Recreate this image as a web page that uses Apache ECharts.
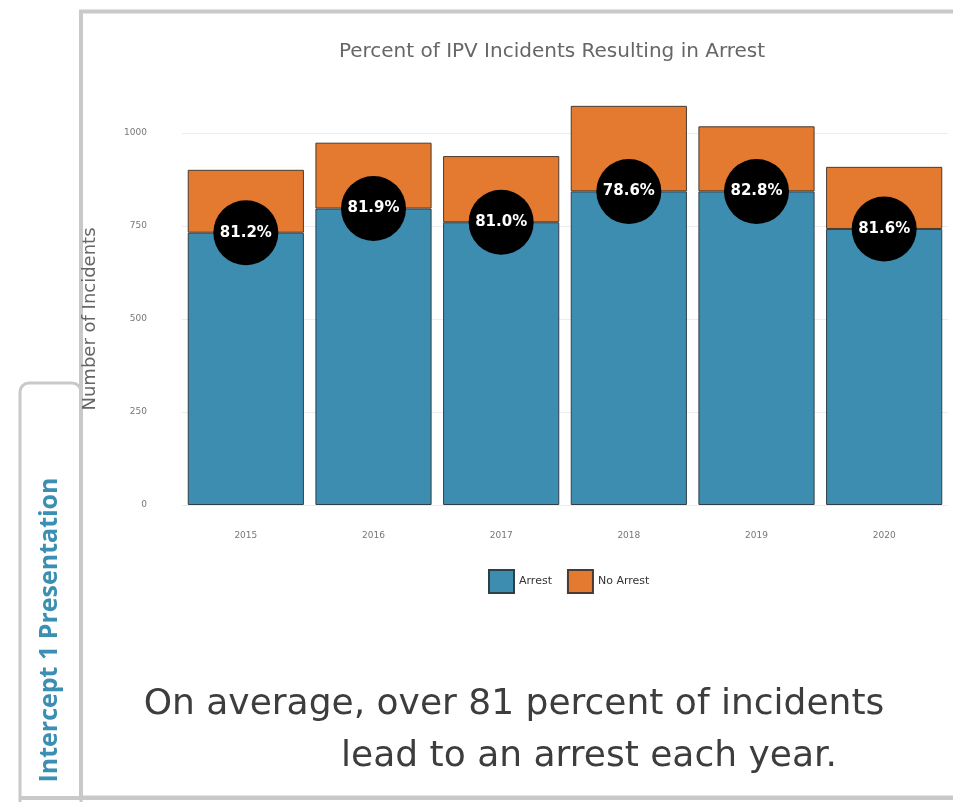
<!DOCTYPE html>
<html>
<head>
<meta charset="utf-8">
<script src="https://cdn.jsdelivr.net/npm/echarts@6/dist/echarts.min.js"></script>
<style>
html,body{margin:0;padding:0;background:#fff;}
#chart{width:953px;height:802px;}
</style>
</head>
<body>
<div id="chart"></div>
<script>
const years = ['2015', '2016', '2017', '2018', '2019', '2020'];
const arrest = [732, 797, 760, 843, 843, 742];
const noArrest = [169, 177, 178, 230, 175, 167];
const percentLabels = ['81.2%', '81.9%', '81.0%', '78.6%', '82.8%', '81.6%'];
const yTicks = [0, 250, 500, 750, 1000];

const chart = echarts.init(document.getElementById('chart'));
const FONT = '"DejaVu Sans", Verdana, sans-serif';
chart.setOption({
  animation: false,
  backgroundColor: '#ffffff',
  grid: { left: 182, right: 5, top: 133, bottom: 297 },
  legend: {
    data: ['Arrest', 'No Arrest'],
    left: 483, top: 564,
    itemWidth: 25, itemHeight: 23, itemGap: 15,
    textStyle: { fontSize: 11, color: '#333', fontFamily: FONT },
    icon: 'rect'
  },
  xAxis: {
    type: 'category',
    data: years,
    axisLine: { show: false },
    axisTick: { show: false },
    axisLabel: { fontSize: 9, color: '#777', margin: 26, fontFamily: FONT }
  },
  yAxis: {
    type: 'value',
    min: 0, max: 1000, interval: 250,
    name: 'Number of Incidents',
    nameLocation: 'middle',
    nameRotate: 90,
    nameGap: 83,
    nameTextStyle: { fontSize: 18, color: '#666', fontFamily: FONT },
    axisLabel: { fontSize: 9, color: '#777', margin: 35, fontFamily: FONT,
      formatter: function (v) { return yTicks.indexOf(v) >= 0 ? String(v) : ''; } },
    splitLine: { show: true, lineStyle: { color: '#ececec', width: 1 } },
    axisLine: { show: false },
    axisTick: { show: false }
  },
  series: [
    {
      name: 'Arrest', type: 'bar', stack: 'total', data: arrest, clip: false,
      barCategoryGap: '9%',
      itemStyle: { color: '#3c8db0', borderColor: '#2f3f48', borderWidth: 1 }
    },
    {
      name: 'No Arrest', type: 'bar', stack: 'total', data: noArrest, clip: false,
      itemStyle: { color: '#e37a2f', borderColor: '#4a3a30', borderWidth: 1 }
    },
    {
      name: 'pct', type: 'scatter', z: 5,
      data: years.map((y, i) => [y, arrest[i]]),
      symbol: 'circle', symbolSize: 65,
      itemStyle: { color: '#000', opacity: 1 },
      label: {
        show: true, position: 'inside',
        formatter: p => percentLabels[p.dataIndex],
        color: '#fff', fontSize: 15, fontWeight: 'bold', fontFamily: FONT
      }
    }
  ],
  graphic: [
    { type: 'rect', z: -1, shape: { x: 20, y: 383, width: 61, height: 440, r: 9 },
      style: { fill: '#fff', stroke: '#c9c9c9', lineWidth: 3 } },
    { type: 'rect', z: 0, shape: { x: 81, y: 11.5, width: 900, height: 786 },
      style: { fill: 'none', stroke: '#c9c9c9', lineWidth: 4 } },
    { type: 'line', z: 0, shape: { x1: 20, y1: 798, x2: 953, y2: 798 },
      style: { stroke: '#c9c9c9', lineWidth: 4 } },
    { type: 'text', z: 10, x: 50, y: 630, rotation: Math.PI / 2,
      style: { text: 'Intercept 1 Presentation', fill: '#3a8fb2',
        font: 'bold 25px "Open Sans", sans-serif', textAlign: 'center', textVerticalAlign: 'middle' } },
    { type: 'text', z: 10, x: 552, y: 52,
      style: { text: 'Percent of IPV Incidents Resulting in Arrest', fill: '#666',
        font: '20px "DejaVu Sans", Verdana, sans-serif', textAlign: 'center', textVerticalAlign: 'middle' } },
    { type: 'text', z: 10, x: 514, y: 705,
      style: { text: 'On average, over 81 percent of incidents', fill: '#3d3d3d',
        font: '36px "DejaVu Sans", Verdana, sans-serif', textAlign: 'center', textVerticalAlign: 'middle' } },
    { type: 'text', z: 10, x: 589, y: 757,
      style: { text: 'lead to an arrest each year.', fill: '#3d3d3d',
        font: '36px "DejaVu Sans", Verdana, sans-serif', textAlign: 'center', textVerticalAlign: 'middle' } }
  ]
});
</script>
</body>
</html>
